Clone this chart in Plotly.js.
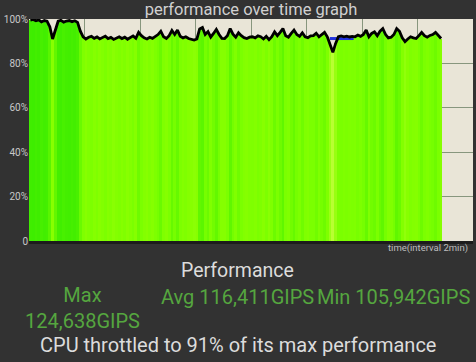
<!DOCTYPE html>
<html>
<head>
<meta charset="utf-8">
<script src="https://cdn.plot.ly/plotly-3.0.1.min.js"></script>
<style>
  html, body { margin: 0; padding: 0; background: #323232; }
  #chart { width: 476px; height: 362px; }
</style>
</head>
<body>
<div id="chart"></div>
<script>
// Performance samples (% of max), one every 0.05 interval unit
const perfValues = [
  99.5, 99.8, 99.2, 99.6, 98.7, 99.3, 99.0, 96.5, 91.0, 95.5,
  99.0, 99.4, 98.6, 99.1, 99.3, 98.8, 99.2, 98.5, 94.5, 92.0,
  91.0, 91.8, 92.2, 91.3, 91.9, 91.0, 91.6, 92.3, 91.2, 91.7,
  90.8, 91.5, 92.0, 91.2, 91.8, 90.9, 91.6, 92.4, 91.3, 94.0,
  92.5, 91.5, 91.0, 91.8, 91.3, 92.2, 93.0, 94.5, 92.0, 91.2,
  92.5, 94.8, 93.0, 95.0, 92.2, 91.5, 92.0, 91.2, 91.0, 90.5,
  91.0, 95.5, 96.2, 93.0, 94.3, 91.8, 93.5, 95.3, 93.0, 91.3,
  91.2, 92.5, 95.7, 93.2, 91.8, 93.8, 92.5, 91.6, 91.2, 91.8,
  92.0, 91.5, 92.4, 92.0, 91.0, 92.2, 90.7, 92.0, 94.2, 92.5,
  94.0, 95.7, 92.5, 91.8, 93.5, 95.0, 93.0, 92.2, 93.8, 92.0,
  91.6, 92.4, 92.5, 93.6, 92.0, 93.0, 94.0, 92.0, 88.5, 85.0,
  89.0, 92.0, 92.4, 92.0, 92.3, 91.9, 92.2, 92.0, 92.8, 92.2,
  93.0, 95.0, 92.0, 93.5, 94.2, 92.5, 94.5, 95.7, 93.0, 91.5,
  91.8, 93.0, 95.7, 94.5, 91.5, 89.8, 91.0, 92.0, 91.5, 91.2,
  92.5, 94.0, 92.5, 91.8, 92.6, 93.0, 94.0, 92.5, 91.2
];
const sampleStep = 0.05;
// Blue reference segment
const blueX = [5.42, 5.85];
const blueY = [91.2, 91.2];

const yTickVals = [0, 20, 40, 60, 80, 100];
const yTickText = ['0', '20%', '40%', '60%', '80%', '100%'];

const titleText = 'performance over time graph';
const xTitleText = 'time(interval 2min)';
const perfLabel = 'Performance';
const maxLabel = 'Max';
const maxValue = '124,638GIPS';
const avgText = 'Avg 116,411GIPS';
const minText = 'Min 105,942GIPS';
const throttleText = 'CPU throttled to 91% of its max performance';

const xs = perfValues.map((v, i) => +(i * sampleStep).toFixed(3));
const xc = xs.map(x => x + sampleStep / 2);

function colorFor(v) {
  let t = (100 - v) / 15;
  t = Math.max(0, Math.min(1, t));
  const r = Math.round(60 + 125 * t);
  const g = Math.round(236 + 19 * Math.min(1, t * 2));
  const b = Math.round(50 * Math.max(0, (t - 0.6) / 0.4));
  return `rgb(${r},${g},${b})`;
}

const traces = [
  {
    type: 'bar', x: xs, y: perfValues, width: sampleStep, offset: 0,
    marker: { color: perfValues.map(colorFor), line: { width: 0 } },
    hoverinfo: 'skip', showlegend: false
  },
  {
    type: 'scatter', mode: 'lines', x: blueX, y: blueY,
    line: { color: '#2233dd', width: 3 }, showlegend: false, hoverinfo: 'skip'
  },
  {
    type: 'scatter', mode: 'lines', x: xc, y: perfValues,
    line: { color: '#000000', width: 2.8 }, showlegend: false, hoverinfo: 'skip'
  }
];

// plot area in pixels
const L = 29, T = 19, W = 476, H = 362, R = 3, B = 121;
const plotH = H - T - B;
const plotW = W - L - R;
const py = Y => (H - B - Y) / plotH;
const px = X => (X - L) / plotW;

const green = '#55a63f';
const light = '#dcdcdc';
const fontFam = 'Roboto, "Noto Sans", sans-serif';

const ann = (text, X, Y, size, color, xanchor) => ({
  text, x: px(X), y: py(Y), xref: 'paper', yref: 'paper',
  xanchor: xanchor || 'center', yanchor: 'middle', showarrow: false,
  font: { family: fontFam, size, color }
});

const layout = {
  width: W, height: H,
  paper_bgcolor: '#323232',
  plot_bgcolor: '#e9e5d7',
  margin: { l: L, r: R, t: T, b: B, pad: 0 },
  bargap: 0,
  showlegend: false,
  font: { family: fontFam },
  title: {
    text: titleText, x: 0.5, xref: 'paper', y: 1 - 9 / H, yanchor: 'middle',
    font: { family: fontFam, size: 16.5, color: '#d0d0d0' }
  },
  xaxis: {
    range: [0, 8], dtick: 1, tick0: 0, showticklabels: false,
    showgrid: true, gridcolor: 'rgba(0,40,0,0.42)', gridwidth: 1,
    zeroline: false, showline: true, linecolor: '#1c1c1c', linewidth: 3,
    ticks: '', layer: 'above traces', fixedrange: true
  },
  yaxis: {
    range: [0, 100], tickvals: yTickVals, ticktext: yTickText,
    showgrid: true, gridcolor: 'rgba(0,40,0,0.42)', gridwidth: 1,
    zeroline: false, showline: false, ticks: '',
    tickfont: { family: fontFam, size: 10, color: '#c8c8c8' },
    layer: 'above traces', fixedrange: true
  },
  annotations: [
    ann(xTitleText, 470, 248, 9.5, '#bdbdbd', 'right'),
    ann(perfLabel, 237.5, 270, 19.5, light),
    ann(maxLabel + '<br>' + maxValue, 82, 307.5, 20, green),
    ann(avgText, 237, 297, 20, green),
    ann(minText, 393.5, 297, 20, green),
    ann(throttleText, 237.5, 345, 20, light)
  ]
};

Plotly.newPlot('chart', traces, layout, { staticPlot: true, displayModeBar: false });
</script>
</body>
</html>
